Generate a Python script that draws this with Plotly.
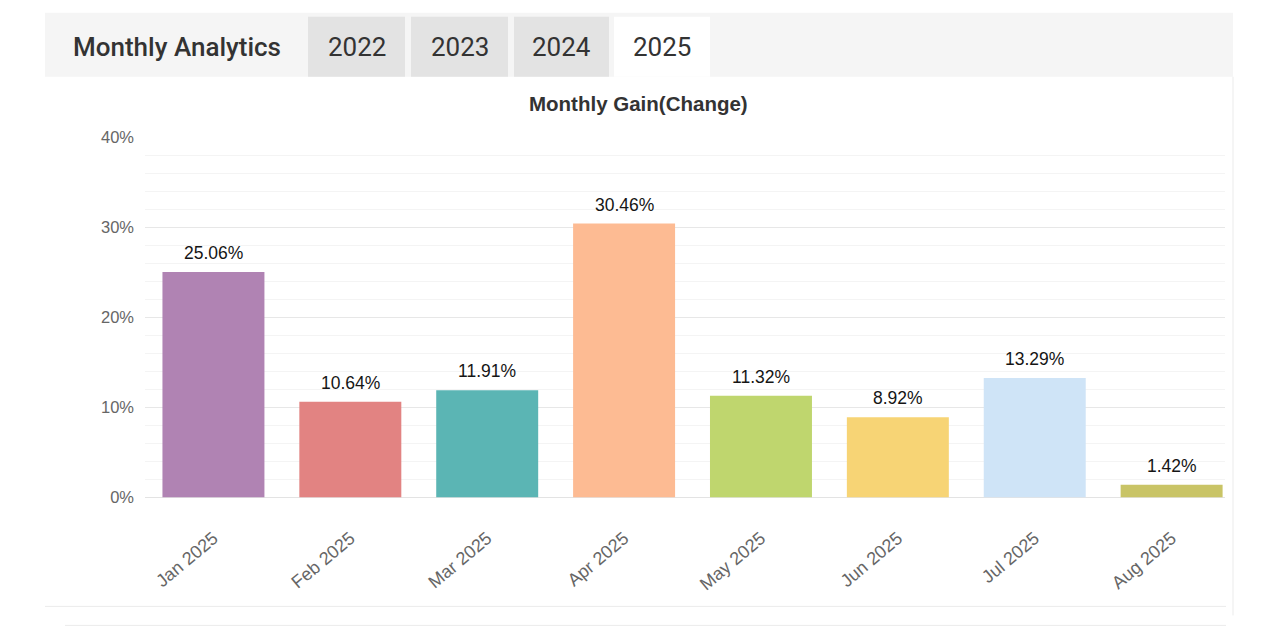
import plotly.graph_objects as go

# data
months = ["Jan 2025", "Feb 2025", "Mar 2025", "Apr 2025",
          "May 2025", "Jun 2025", "Jul 2025", "Aug 2025"]
gains = [25.06, 10.64, 11.91, 30.46, 11.32, 8.92, 13.29, 1.42]
bar_colors = ["#b083b3", "#e28382", "#5bb5b4", "#fdbb93",
              "#bfd66e", "#f7d475", "#cfe4f7", "#c9c466"]
year_tabs = ["2022", "2023", "2024", "2025"]
y_ticks = [0, 10, 20, 30, 40]

# the page shows the figure at an offset (and a slight vertical squeeze),
# so screen pixels are mapped back to paper fractions here
OFF_X, OFF_Y, SCALE_Y = 8, 16.2, 0.972
W, H = 1264, 628


def px_x(v):
    return (v - OFF_X) / W


def px_y(v):
    return 1 - (v - OFF_Y) / SCALE_Y / H


fig = go.Figure()
fig.add_trace(go.Bar(
    x=months, y=gains, width=0.745,
    marker=dict(color=bar_colors, line=dict(width=0)),
    hoverinfo="skip", showlegend=False,
))

# value labels above bars
annotations = []
for m, g in zip(months, gains):
    annotations.append(dict(
        x=m, y=g, xref="x", yref="y", text=f"{g:.2f}%", showarrow=False,
        xanchor="center", yanchor="bottom", yshift=7,
        font=dict(family="Liberation Sans, Arial", size=17.5, color="#151515"),
    ))

# chart title
annotations.append(dict(
    x=px_x(638), y=px_y(103), xref="paper", yref="paper",
    xanchor="center", yanchor="middle",
    text="<b>Monthly Gain(Change)</b>", showarrow=False,
    font=dict(family="Liberation Sans, Arial", size=20.5, color="#333"),
))

# header bar with tabs
shapes = [
    dict(type="rect", xref="paper", yref="paper", x0=px_x(45), x1=px_x(1233),
         y0=px_y(76), y1=px_y(12), fillcolor="#f5f5f5", line=dict(width=0), layer="below"),
    dict(type="line", xref="paper", yref="paper", x0=px_x(1233), x1=px_x(1233),
         y0=px_y(615), y1=px_y(76), line=dict(color="#ebebeb", width=1)),
    dict(type="line", xref="paper", yref="paper", x0=px_x(45), x1=px_x(1226),
         y0=px_y(606), y1=px_y(606), line=dict(color="#ebebeb", width=1)),
    dict(type="line", xref="paper", yref="paper", x0=px_x(65), x1=px_x(1226),
         y0=px_y(625), y1=px_y(625), line=dict(color="#ebebeb", width=1)),
]
tab_x = [(308, 405), (411, 508), (514, 609), (614, 710)]
for (x0, x1), yr in zip(tab_x, year_tabs):
    fill = "#ffffff" if yr == "2025" else "#e3e3e3"
    shapes.append(dict(type="rect", xref="paper", yref="paper", x0=px_x(x0), x1=px_x(x1),
                       y0=px_y(76), y1=px_y(16), fillcolor=fill, line=dict(width=0),
                       layer="below"))
    annotations.append(dict(
        x=px_x((x0 + x1) / 2), y=px_y(46), xref="paper", yref="paper", text=yr,
        xanchor="center", yanchor="middle",
        showarrow=False, font=dict(family="Roboto", size=26, color="#333"),
    ))

annotations.append(dict(
    x=px_x(71), y=px_y(46), xref="paper", yref="paper", xanchor="left", yanchor="middle",
    text="Monthly Analytics", showarrow=False,
    font=dict(family="Roboto", size=26, color="#333", weight=500),
))

fig.update_layout(
    width=W, height=H, margin=dict(l=0, r=0, t=0, b=0),
    paper_bgcolor="white", plot_bgcolor="white",
    shapes=shapes, annotations=annotations, bargap=0.25,
)
fig.update_xaxes(
    domain=[px_x(145), px_x(1225)], range=[-0.5, 7.39],
    tickangle=-40, showgrid=False, showline=False, ticks="",
    ticklabelstandoff=26,
    tickfont=dict(family="Liberation Sans, Arial", size=18, color="#666"),
)
fig.update_yaxes(
    domain=[px_y(497), px_y(137)], range=[0, 40],
    tickvals=y_ticks, ticktext=[f"{v}%" for v in y_ticks],
    showgrid=True, gridcolor="#e7e7e7", gridwidth=1,
    zeroline=True, zerolinecolor="#e3e3e3", zerolinewidth=1,
    minor=dict(dtick=2, showgrid=True, gridcolor="#f4f4f4", gridwidth=1),
    ticklabelstandoff=10,
    tickfont=dict(family="Liberation Sans, Arial", size=16.5, color="#666"),
)

fig.write_html("out.html")
